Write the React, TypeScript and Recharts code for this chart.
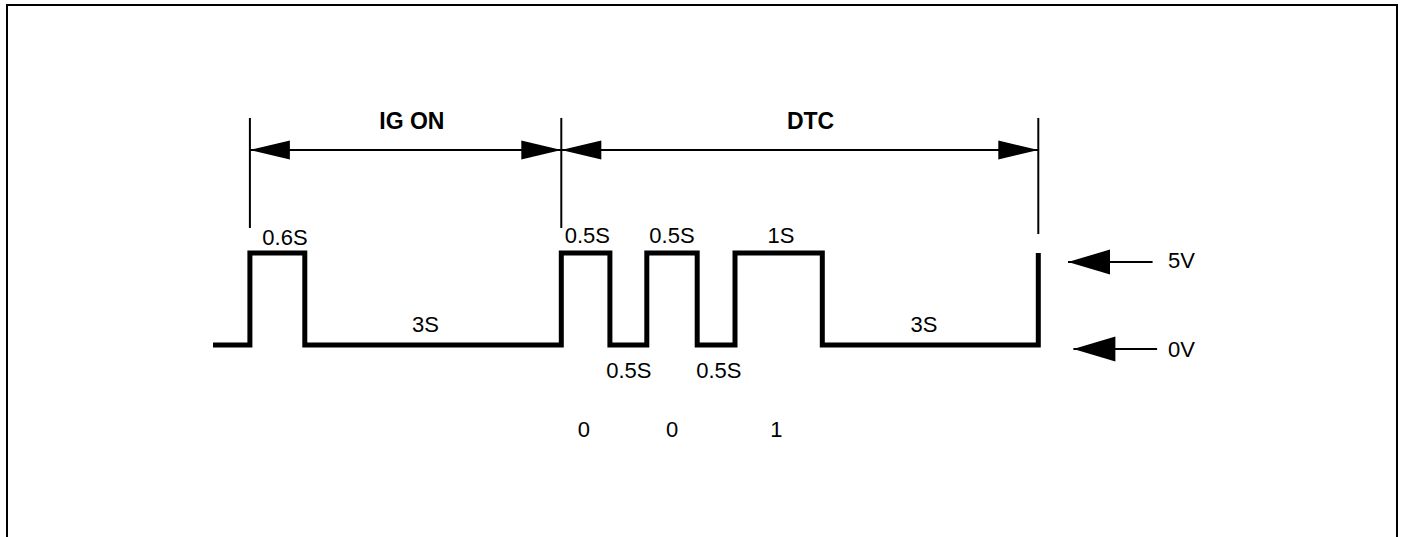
import { LineChart, Line, XAxis, YAxis, ReferenceLine, ReferenceDot } from 'recharts'

// waveform edges (diagram position) and the level after each edge, in volts
const edgeTimes = [0, 0.41, 1.02, 3.87, 4.41, 4.82, 5.38, 5.8, 6.77, 9.17]
const levels = [0, 5, 0, 5, 0, 5, 0, 5, 0, 5]

// vertical markers bounding the IG ON / DTC spans
const markerTimes = [0.41, 3.87, 9.17]
const markerTops = [12.34, 12.34, 12.34]
const markerBottoms = [6.36, 6.36, 6.03]

// span arrows
const spanLabels = ['IG ON', 'DTC']
const spanFrom = [0.41, 3.87]
const spanTo = [3.87, 9.17]
const spanLabelX = [2.21, 6.64]
const spanLevel = 10.6
const spanLabelLevel = 11.74

// pulse durations
const durationLabels = ['0.6S', '3S', '0.5S', '0.5S', '1S', '0.5S', '0.5S', '3S']
const durationX = [0.8, 2.36, 4.16, 5.1, 6.31, 4.62, 5.62, 7.9]
const durationY = [5.43, 0.71, 5.54, 5.54, 5.54, -1.79, -1.79, 0.71]

// decoded bits
const bits = ['0', '0', '1']
const bitX = [4.12, 5.1, 6.26]
const bitLevel = -5.0

// voltage reference arrows
const voltLabels = ['5V', '0V']
const voltArrowY = [4.51, -0.22]
const voltArrowTip = [9.5, 9.56]
const voltArrowTail = [10.44, 10.49]
const voltLabelX = 10.61
const voltLabelY = [4.18, -0.65]

const data = edgeTimes.map((t, i) => ({ t, v: levels[i] }))

const FONT = '"Liberation Sans", Arial, Helvetica, sans-serif'

const textShape = (text: string, size: number, bold = false, anchor = 'middle') => (p: any) => (
  <text
    x={p.cx}
    y={p.cy}
    textAnchor={anchor}
    fontSize={size}
    fontWeight={bold ? 700 : 400}
    fontFamily={FONT}
    fill="#000"
  >
    {text}
  </text>
)

const arrowShape = (both: boolean, len: number, half: number) => (p: any) => {
  const xl = Math.min(p.x1, p.x2)
  const xr = Math.max(p.x1, p.x2)
  const y = p.y1
  return (
    <g>
      <line x1={xl} y1={y} x2={xr} y2={y} stroke="#000" strokeWidth={2} />
      <polygon points={`${xl},${y} ${xl + len},${y - half} ${xl + len},${y + half}`} fill="#000" />
      {both ? (
        <polygon points={`${xr},${y} ${xr - len},${y - half} ${xr - len},${y + half}`} fill="#000" />
      ) : null}
    </g>
  )
}

export default function App() {
  return (
    <div style={{ position: 'absolute', left: 0, top: 0, width: 1408, height: 537, background: '#fff' }}>
      <div
        style={{
          position: 'absolute',
          left: 6,
          top: 4,
          width: 1392,
          height: 533,
          boxSizing: 'border-box',
          borderTop: '2px solid #000',
          borderLeft: '2px solid #000',
          borderRight: '2px solid #000',
        }}
      />
      <div style={{ position: 'absolute', left: 0, top: 0 }}>
        <LineChart width={1408} height={537} data={data} margin={{ top: 161, right: 115, bottom: 100, left: 213 }}>
          <XAxis type="number" dataKey="t" domain={[0, 12]} hide />
          <YAxis type="number" domain={[-5, 10]} hide width={0} />
          <Line
            type="stepAfter"
            dataKey="v"
            stroke="#000"
            strokeWidth={5}
            strokeLinejoin="miter"
            dot={false}
            isAnimationActive={false}
          />
          {markerTimes.map((t, i) => (
            <ReferenceLine
              key={`m${i}`}
              segment={[{ x: t, y: markerBottoms[i] }, { x: t, y: markerTops[i] }]}
              stroke="#000"
              strokeWidth={2}
              ifOverflow="visible"
            />
          ))}
          {spanLabels.map((s, i) => (
            <ReferenceLine
              key={`s${i}`}
              segment={[{ x: spanFrom[i], y: spanLevel }, { x: spanTo[i], y: spanLevel }]}
              ifOverflow="visible"
              shape={arrowShape(true, 40, 9.5)}
            />
          ))}
          {spanLabels.map((s, i) => (
            <ReferenceDot key={`sl${i}`} x={spanLabelX[i]} y={spanLabelLevel} r={0} ifOverflow="visible" shape={textShape(s, 23, true)} />
          ))}
          {durationLabels.map((s, i) => (
            <ReferenceDot key={`d${i}`} x={durationX[i]} y={durationY[i]} r={0} ifOverflow="visible" shape={textShape(s, 22)} />
          ))}
          {bits.map((s, i) => (
            <ReferenceDot key={`b${i}`} x={bitX[i]} y={bitLevel} r={0} ifOverflow="visible" shape={textShape(s, 22)} />
          ))}
          {voltLabels.map((s, i) => (
            <ReferenceLine
              key={`va${i}`}
              segment={[{ x: voltArrowTip[i], y: voltArrowY[i] }, { x: voltArrowTail[i], y: voltArrowY[i] }]}
              ifOverflow="visible"
              shape={arrowShape(false, 42, 12.5)}
            />
          ))}
          {voltLabels.map((s, i) => (
            <ReferenceDot key={`vl${i}`} x={voltLabelX} y={voltLabelY[i]} r={0} ifOverflow="visible" shape={textShape(s, 22, false, 'start')} />
          ))}
        </LineChart>
      </div>
    </div>
  )
}
